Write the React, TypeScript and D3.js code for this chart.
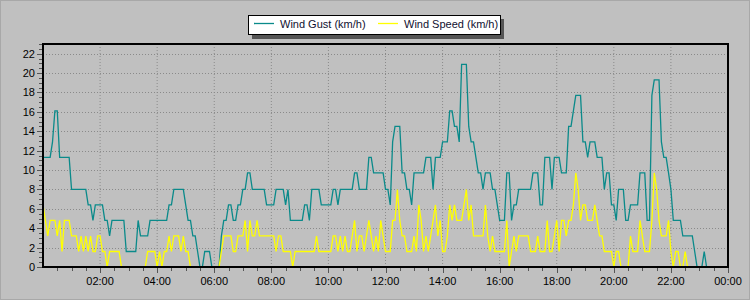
import React from "react";
import * as d3 from "d3";

// 5-minute samples, 00:00 .. 24:00 (km/h)
const windGust: number[] = [
  11.3, 11.3, 11.3, 11.3, 12.9, 16.1, 16.1, 11.3, 11.3, 11.3, 11.3, 11.3,
  8, 8, 8, 8, 8, 8, 8, 6.4, 6.4, 4.8, 6.4, 6.4,
  6.4, 6.4, 4.8, 4.8, 3.2, 4.8, 4.8, 4.8, 4.8, 4.8, 4.8, 1.6,
  1.6, 1.6, 1.6, 1.6, 4.8, 3.2, 3.2, 3.2, 3.2, 4.8, 4.8, 4.8,
  4.8, 4.8, 4.8, 4.8, 4.8, 6.4, 6.4, 8, 8, 8, 8, 8,
  6.4, 4.8, 4.8, 3.2, 3.2, 1.6, 0, 0, 1.6, 1.6, 1.6, 0,
  0, 0, 0, 3.2, 4.8, 4.8, 6.4, 6.4, 4.8, 4.8, 6.4, 6.4,
  8, 8, 9.7, 9.7, 8, 8, 8, 8, 8, 8, 6.4, 6.4,
  6.4, 6.4, 8, 8, 8, 8, 6.4, 8, 4.8, 4.8, 4.8, 4.8,
  4.8, 4.8, 6.4, 6.4, 4.8, 8, 8, 8, 8, 6.4, 6.4, 6.4,
  6.4, 6.4, 8, 8, 6.4, 8, 8, 8, 8, 8, 8, 9.7,
  9.7, 8, 8, 8, 8, 11.3, 11.3, 9.7, 9.7, 9.7, 9.7, 9.7,
  8, 8, 6.4, 12.9, 14.5, 14.5, 14.5, 9.7, 9.7, 8, 8, 6.4,
  9.7, 9.7, 9.7, 9.7, 9.7, 11.3, 11.3, 11.3, 8, 11.3, 11.3, 11.3,
  12.9, 12.9, 12.9, 16.1, 16.1, 14.5, 14.5, 12.9, 20.9, 20.9, 20.9, 14.5,
  12.9, 12.9, 11.3, 9.7, 9.7, 8, 9.7, 9.7, 9.7, 8, 8, 6.4,
  4.8, 4.8, 4.8, 9.7, 9.7, 4.8, 6.4, 6.4, 8, 8, 8, 8,
  8, 8, 9.7, 9.7, 9.7, 6.4, 6.4, 11.3, 11.3, 11.3, 8, 11.3,
  11.3, 11.3, 9.7, 9.7, 9.7, 14.5, 14.5, 16.1, 17.7, 17.7, 17.7, 12.9,
  12.9, 11.3, 12.9, 12.9, 12.9, 11.3, 11.3, 11.3, 8, 9.7, 9.7, 6.4,
  6.4, 4.8, 8, 8, 8, 4.8, 4.8, 6.4, 6.4, 6.4, 6.4, 9.7,
  9.7, 9.7, 4.8, 4.8, 17.7, 19.3, 19.3, 19.3, 12.9, 11.3, 11.3, 9.7,
  8, 4.8, 4.8, 4.8, 4.8, 3.2, 3.2, 3.2, 3.2, 3.2, 1.6, 0,
  0, 0, 1.6, 0, 0, 0, 0, 0, 0, 0, 0, 0, 0,
];

const windSpeed: number[] = [
  6.4, 4.8, 3.2, 4.8, 4.8, 4.8, 3.2, 4.8, 1.6, 4.8, 4.8, 4.8,
  3.2, 3.2, 3.2, 1.6, 3.2, 1.6, 3.2, 1.6, 3.2, 1.6, 1.6, 3.2,
  3.2, 1.6, 1.6, 0, 1.6, 1.6, 1.6, 1.6, 1.6, 0, 0, 0,
  0, 0, 0, 0, 0, 0, 0, 0, 1.6, 1.6, 1.6, 1.6,
  0, 1.6, 0, 1.6, 1.6, 3.2, 1.6, 3.2, 3.2, 3.2, 1.6, 3.2,
  1.6, 1.6, 0, 0, 0, 0, 0, 0, 0, 0, 0, 0,
  0, 0, 0, 1.6, 3.2, 3.2, 3.2, 3.2, 1.6, 1.6, 3.2, 3.2,
  3.2, 4.8, 1.6, 4.8, 3.2, 3.2, 4.8, 3.2, 3.2, 3.2, 3.2, 3.2,
  3.2, 3.2, 1.6, 3.2, 3.2, 1.6, 1.6, 1.6, 1.6, 0, 1.6, 1.6,
  1.6, 1.6, 1.6, 1.6, 1.6, 1.6, 1.6, 3.2, 1.6, 1.6, 1.6, 1.6,
  1.6, 1.6, 3.2, 3.2, 1.6, 3.2, 1.6, 3.2, 1.6, 1.6, 3.2, 4.8,
  1.6, 3.2, 3.2, 1.6, 3.2, 4.8, 3.2, 1.6, 3.2, 1.6, 4.8, 3.2,
  1.6, 1.6, 1.6, 4.8, 4.8, 8, 4.8, 3.2, 3.2, 1.6, 1.6, 1.6,
  3.2, 1.6, 6.4, 4.8, 1.6, 3.2, 1.6, 3.2, 4.8, 6.4, 3.2, 4.8,
  1.6, 1.6, 3.2, 6.4, 4.8, 6.4, 4.8, 4.8, 4.8, 6.4, 8, 4.8,
  6.4, 3.2, 3.2, 3.2, 3.2, 3.2, 6.4, 3.2, 1.6, 3.2, 1.6, 1.6,
  1.6, 1.6, 1.6, 4.8, 0, 1.6, 3.2, 1.6, 3.2, 3.2, 3.2, 3.2,
  3.2, 1.6, 1.6, 1.6, 3.2, 1.6, 1.6, 1.6, 4.8, 1.6, 1.6, 3.2,
  4.8, 1.6, 4.8, 4.8, 3.2, 4.8, 4.8, 6.4, 9.7, 8, 4.8, 6.4,
  6.4, 4.8, 4.8, 4.8, 6.4, 4.8, 3.2, 3.2, 1.6, 1.6, 1.6, 1.6,
  0, 1.6, 1.6, 0, 0, 0, 0, 3.2, 1.6, 1.6, 1.6, 4.8,
  3.2, 1.6, 1.6, 1.6, 4.8, 9.7, 8, 4.8, 3.2, 3.2, 3.2, 4.8,
  1.6, 0, 1.6, 1.6, 0, 0, 1.6, 0, 0, 0, 0, 0,
  0, 0, 0, 0, 0, 0, 0, 0, 0, 0, 0, 0, 0,
];

const xTickMinutes: number[] = [120, 240, 360, 480, 600, 720, 840, 960, 1080, 1200, 1320, 1440];
const xTickLabels: string[] = ["02:00", "04:00", "06:00", "08:00", "10:00", "12:00", "14:00", "16:00", "18:00", "20:00", "22:00", "00:00"];
const yTickValues: number[] = [0, 2, 4, 6, 8, 10, 12, 14, 16, 18, 20, 22];
const seriesNames: string[] = ["Wind Gust (km/h)", "Wind Speed (km/h)"];
const seriesColors: string[] = ["#0a8a8a", "#ffff00"];

const W = 750;
const H = 300;
const plot = { left: 43, right: 728, top: 44, bottom: 267 };
const FONT = "'Liberation Sans', Arial, sans-serif";

export default function App() {
  const x = d3.scaleLinear().domain([0, 1440]).range([plot.left, plot.right]);
  const y = d3.scaleLinear().domain([0, 23]).range([plot.bottom, plot.top]);

  const line = d3
    .line<number>()
    .x((_, i) => x(i * 5))
    .y((d) => y(d));

  const minorX = d3.range(30, 1441, 30);
  const minorY = d3.range(0, 23.01, 0.5);

  return (
    <svg
      width={W}
      height={H}
      style={{ position: "absolute", left: 0, top: 0, display: "block" }}
      fontFamily={FONT}
    >
      <rect x={0} y={0} width={W} height={H} fill="#c0c0c0" />
      <rect x={0.5} y={0.5} width={W - 1} height={H - 1} fill="none" stroke="#a8a8a8" />

      {/* grid */}
      {xTickMinutes.map((m) => (
        <line key={"gx" + m} x1={x(m)} x2={x(m)} y1={plot.top} y2={plot.bottom}
          stroke="#8a8a8a" strokeDasharray="1,2" />
      ))}
      {yTickValues.filter((v) => v > 0).map((v) => (
        <line key={"gy" + v} x1={plot.left} x2={plot.right} y1={Math.round(y(v)) + 0.5} y2={Math.round(y(v)) + 0.5}
          stroke="#8a8a8a" strokeDasharray="1,2" />
      ))}

      {/* series */}
      <path d={line(windGust) || ""} fill="none" stroke={seriesColors[0]} strokeWidth={1.3} />
      <path d={line(windSpeed) || ""} fill="none" stroke={seriesColors[1]} strokeWidth={1.3} />

      {/* frame */}
      <rect x={plot.left} y={plot.top} width={plot.right - plot.left} height={plot.bottom - plot.top}
        fill="none" stroke="#000" strokeWidth={2} />

      {/* y ticks */}
      {minorY.map((v) => {
        const major = Math.abs(v % 2) < 1e-6;
        return (
          <line key={"ty" + v} x1={plot.left - 1} x2={plot.left - (major ? 6 : 4)}
            y1={Math.round(y(v)) + 0.5} y2={Math.round(y(v)) + 0.5} stroke="#555" />
        );
      })}
      {yTickValues.map((v) => (
        <text key={"ly" + v} x={plot.left - 8} y={y(v) + 4} textAnchor="end" fontSize={11} fill="#000">
          {v}
        </text>
      ))}

      {/* x ticks */}
      {minorX.map((m) => {
        const major = m % 120 === 0;
        return (
          <line key={"tx" + m} x1={Math.round(x(m)) + 0.5} x2={Math.round(x(m)) + 0.5}
            y1={plot.bottom + 1} y2={plot.bottom + (major ? 6 : 4)} stroke="#555" />
        );
      })}
      {xTickMinutes.map((m, i) => (
        <text key={"lx" + m} x={x(m)} y={285} textAnchor="middle" fontSize={11} fill="#000">
          {xTickLabels[i]}
        </text>
      ))}

      {/* legend */}
      <rect x={252} y={19} width={252} height={20} fill="#555" />
      <rect x={248.5} y={15.5} width={252} height={19} fill="#fff" stroke="#000" />
      <line x1={254} x2={274} y1={23.5} y2={23.5} stroke={seriesColors[0]} strokeWidth={1.3} />
      <text x={280} y={27.5} fontSize={11} fill="#101030">{seriesNames[0]}</text>
      <line x1={378} x2={398} y1={23.5} y2={23.5} stroke={seriesColors[1]} strokeWidth={1.3} />
      <text x={404} y={27.5} fontSize={11} fill="#101030">{seriesNames[1]}</text>
    </svg>
  );
}
